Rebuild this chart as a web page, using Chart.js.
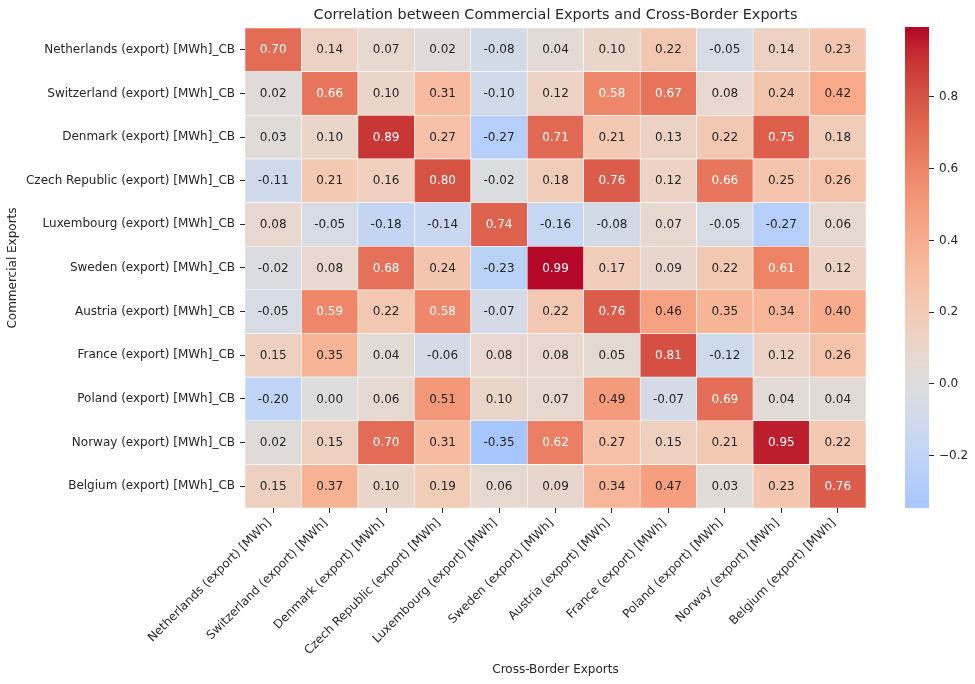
<!DOCTYPE html>
<html>
<head>
<meta charset="utf-8">
<script src="https://cdn.jsdelivr.net/npm/chart.js@4.4.1/dist/chart.umd.min.js"></script>
<style>
  html, body { margin: 0; padding: 0; background: #fff; }
  #wrap { position: relative; width: 975px; height: 684px; }
  #wrap canvas { position: absolute; left: 0; top: 0; }
</style>
</head>
<body>
<div id="wrap">
  <canvas id="heat" width="975" height="684"></canvas>
  <canvas id="cbar" width="975" height="684"></canvas>
</div>
<script>
/* correlation heatmap: commercial vs cross-border exports */

const rowLabels = [
  "Netherlands (export) [MWh]_CB", "Switzerland (export) [MWh]_CB", "Denmark (export) [MWh]_CB",
  "Czech Republic (export) [MWh]_CB", "Luxembourg (export) [MWh]_CB", "Sweden (export) [MWh]_CB",
  "Austria (export) [MWh]_CB", "France (export) [MWh]_CB", "Poland (export) [MWh]_CB",
  "Norway (export) [MWh]_CB", "Belgium (export) [MWh]_CB",
];
const colLabels = [
  "Netherlands (export) [MWh]", "Switzerland (export) [MWh]", "Denmark (export) [MWh]",
  "Czech Republic (export) [MWh]", "Luxembourg (export) [MWh]", "Sweden (export) [MWh]",
  "Austria (export) [MWh]", "France (export) [MWh]", "Poland (export) [MWh]",
  "Norway (export) [MWh]", "Belgium (export) [MWh]",
];

const netherlands = [0.70, 0.14, 0.07, 0.02, -0.08, 0.04, 0.10, 0.22, -0.05, 0.14, 0.23];
const switzerland = [0.02, 0.66, 0.10, 0.31, -0.10, 0.12, 0.58, 0.67, 0.08, 0.24, 0.42];
const denmark     = [0.03, 0.10, 0.89, 0.27, -0.27, 0.71, 0.21, 0.13, 0.22, 0.75, 0.18];
const czech       = [-0.11, 0.21, 0.16, 0.80, -0.02, 0.18, 0.76, 0.12, 0.66, 0.25, 0.26];
const luxembourg  = [0.08, -0.05, -0.18, -0.14, 0.74, -0.16, -0.08, 0.07, -0.05, -0.27, 0.06];
const sweden      = [-0.02, 0.08, 0.68, 0.24, -0.23, 0.99, 0.17, 0.09, 0.22, 0.61, 0.12];
const austria     = [-0.05, 0.59, 0.22, 0.58, -0.07, 0.22, 0.76, 0.46, 0.35, 0.34, 0.40];
const france      = [0.15, 0.35, 0.04, -0.06, 0.08, 0.08, 0.05, 0.81, -0.12, 0.12, 0.26];
const poland      = [-0.20, 0.00, 0.06, 0.51, 0.10, 0.07, 0.49, -0.07, 0.69, 0.04, 0.04];
const norway      = [0.02, 0.15, 0.70, 0.31, -0.35, 0.62, 0.27, 0.15, 0.21, 0.95, 0.22];
const belgium     = [0.15, 0.37, 0.10, 0.19, 0.06, 0.09, 0.34, 0.47, 0.03, 0.23, 0.76];

const values = [netherlands, switzerland, denmark, czech, luxembourg, sweden,
                austria, france, poland, norway, belgium];

// colour bar limits and ticks
const cbMin = -0.346;
const cbMax = 0.995;
const cbTicks = [-0.2, 0.0, 0.2, 0.4, 0.6, 0.8];

// ─── Colormap (coolwarm, centred on 0) ───────────────────────────────────────

const coolwarm = [
  [59,76,192],[68,90,204],[77,104,215],[87,117,225],[98,130,234],[108,142,241],
  [119,154,247],[130,165,251],[141,176,254],[152,185,255],[163,194,255],[174,201,253],
  [184,208,249],[194,213,244],[204,217,238],[213,219,230],[221,221,221],[229,216,209],
  [236,211,197],[241,204,184],[245,196,172],[247,187,159],[247,177,147],[247,166,134],
  [244,154,123],[241,141,111],[236,127,99],[229,112,89],[222,96,77],[213,80,66],
  [203,62,56],[192,40,47],[180,4,38],
];

function cmapAt(t) {
  t = Math.max(0, Math.min(1, t));
  const f = t * (coolwarm.length - 1);
  const i = Math.min(coolwarm.length - 2, Math.floor(f));
  const k = f - i;
  const a = coolwarm[i], b = coolwarm[i + 1];
  return [0, 1, 2].map(j => Math.round(a[j] + (b[j] - a[j]) * k));
}

const vrange = Math.max(cbMax, -cbMin);
const rgbFor = v => cmapAt(0.5 + v / (2 * vrange));
const cssFor = v => { const c = rgbFor(v); return `rgb(${c[0]},${c[1]},${c[2]})`; };

function textColorFor(v) {
  const lin = rgbFor(v).map(c => {
    c /= 255;
    return c <= 0.03928 ? c / 12.92 : Math.pow((c + 0.055) / 1.055, 2.4);
  });
  const lum = 0.2126 * lin[0] + 0.7152 * lin[1] + 0.0722 * lin[2];
  return lum > 0.408 ? "#262626" : "#ffffff";
}

// ─── Shared style ────────────────────────────────────────────────────────────

const FONT = "'DejaVu Sans', 'Liberation Sans', sans-serif";
const INK = "#262626";
Chart.defaults.font.family = FONT;
Chart.defaults.font.size = 12;
Chart.defaults.color = INK;

const tickGrid = {
  drawOnChartArea: false,
  drawTicks: true,
  tickLength: 5,
  tickColor: INK,
  tickWidth: 1,
  offset: false,
};

// ─── Cell annotations ────────────────────────────────────────────────────────

const annotate = {
  id: "annotate",
  afterDatasetsDraw(chart) {
    const ctx = chart.ctx;
    ctx.save();
    ctx.font = `12px ${FONT}`;
    ctx.textAlign = "center";
    ctx.textBaseline = "middle";
    chart.data.datasets.forEach((ds, r) => {
      chart.getDatasetMeta(r).data.forEach((el, c) => {
        const v = values[r][c];
        ctx.fillStyle = textColorFor(v);
        ctx.fillText(v.toFixed(2), el.x, (el.y + el.base) / 2 + 0.5);
      });
    });
    ctx.restore();
  },
};

// ─── Heatmap ─────────────────────────────────────────────────────────────────

new Chart(document.getElementById("heat"), {
  type: "bar",
  data: {
    labels: colLabels,
    datasets: values.map((row, r) => ({
      label: rowLabels[r],
      data: row.map(() => [r, r + 1]),
      backgroundColor: row.map(cssFor),
      borderColor: "#ffffff",
      borderWidth: 0.6,
      borderSkipped: false,
      barPercentage: 1,
      categoryPercentage: 1,
      grouped: false,
    })),
  },
  options: {
    responsive: false,
    animation: false,
    events: [],
    layout: { padding: { left: 0, right: 109, top: 0, bottom: 0 } },
    plugins: {
      legend: { display: false },
      tooltip: { enabled: false },
      title: {
        display: true,
        fullSize: false,
        text: "Correlation between Commercial Exports and Cross-Border Exports",
        color: INK,
        font: { size: 14.4, weight: "normal" },
        padding: { top: 7, bottom: 3.7 },
      },
    },
    scales: {
      x: {
        type: "category",
        offset: true,
        border: { display: false },
        grid: tickGrid,
        ticks: { color: INK, minRotation: 45, maxRotation: 45, padding: 3, labelOffset: -4, autoSkip: false },
        title: { display: true, text: "Cross-Border Exports", color: INK, padding: { top: 0, bottom: 7 } },
        afterFit: s => { s.height = 176; },
      },
      y: {
        type: "linear",
        reverse: true,
        min: 0,
        max: rowLabels.length,
        border: { display: false },
        grid: tickGrid,
        afterBuildTicks: s => { s.ticks = rowLabels.map((_, i) => ({ value: i + 0.5 })); },
        ticks: { color: INK, padding: 5, callback: v => rowLabels[Math.floor(v)] },
        title: { display: true, text: "Commercial Exports", color: INK, padding: { top: 6, bottom: 0 } },
        afterFit: s => { s.width = 245; },
      },
    },
  },
  plugins: [annotate],
});

// ─── Colour bar ──────────────────────────────────────────────────────────────

function gradientFill(context) {
  const { ctx, chartArea } = context.chart;
  if (!chartArea) return null;
  const g = ctx.createLinearGradient(0, chartArea.bottom, 0, chartArea.top);
  const steps = 64;
  for (let i = 0; i <= steps; i++) {
    const v = cbMin + (cbMax - cbMin) * i / steps;
    g.addColorStop(i / steps, cssFor(v));
  }
  return g;
}

new Chart(document.getElementById("cbar"), {
  type: "bar",
  data: {
    labels: ["cb"],
    datasets: [{
      data: [[cbMin, cbMax]],
      backgroundColor: gradientFill,
      borderWidth: 0,
      barPercentage: 1,
      categoryPercentage: 1,
    }],
  },
  options: {
    responsive: false,
    animation: false,
    events: [],
    layout: { padding: { left: 905, right: 0, top: 27, bottom: 176 } },
    plugins: { legend: { display: false }, tooltip: { enabled: false } },
    scales: {
      x: { display: false },
      y: {
        position: "right",
        min: cbMin,
        max: cbMax,
        border: { display: false },
        grid: tickGrid,
        afterBuildTicks: s => { s.ticks = cbTicks.map(v => ({ value: v })); },
        ticks: {
          color: INK,
          padding: 5,
          callback: v => (v < 0 ? "\u2212" : "") + Math.abs(v).toFixed(1),
        },
        afterFit: s => { s.width = 975 - 929; },
      },
    },
  },
});
</script>
</body>
</html>
